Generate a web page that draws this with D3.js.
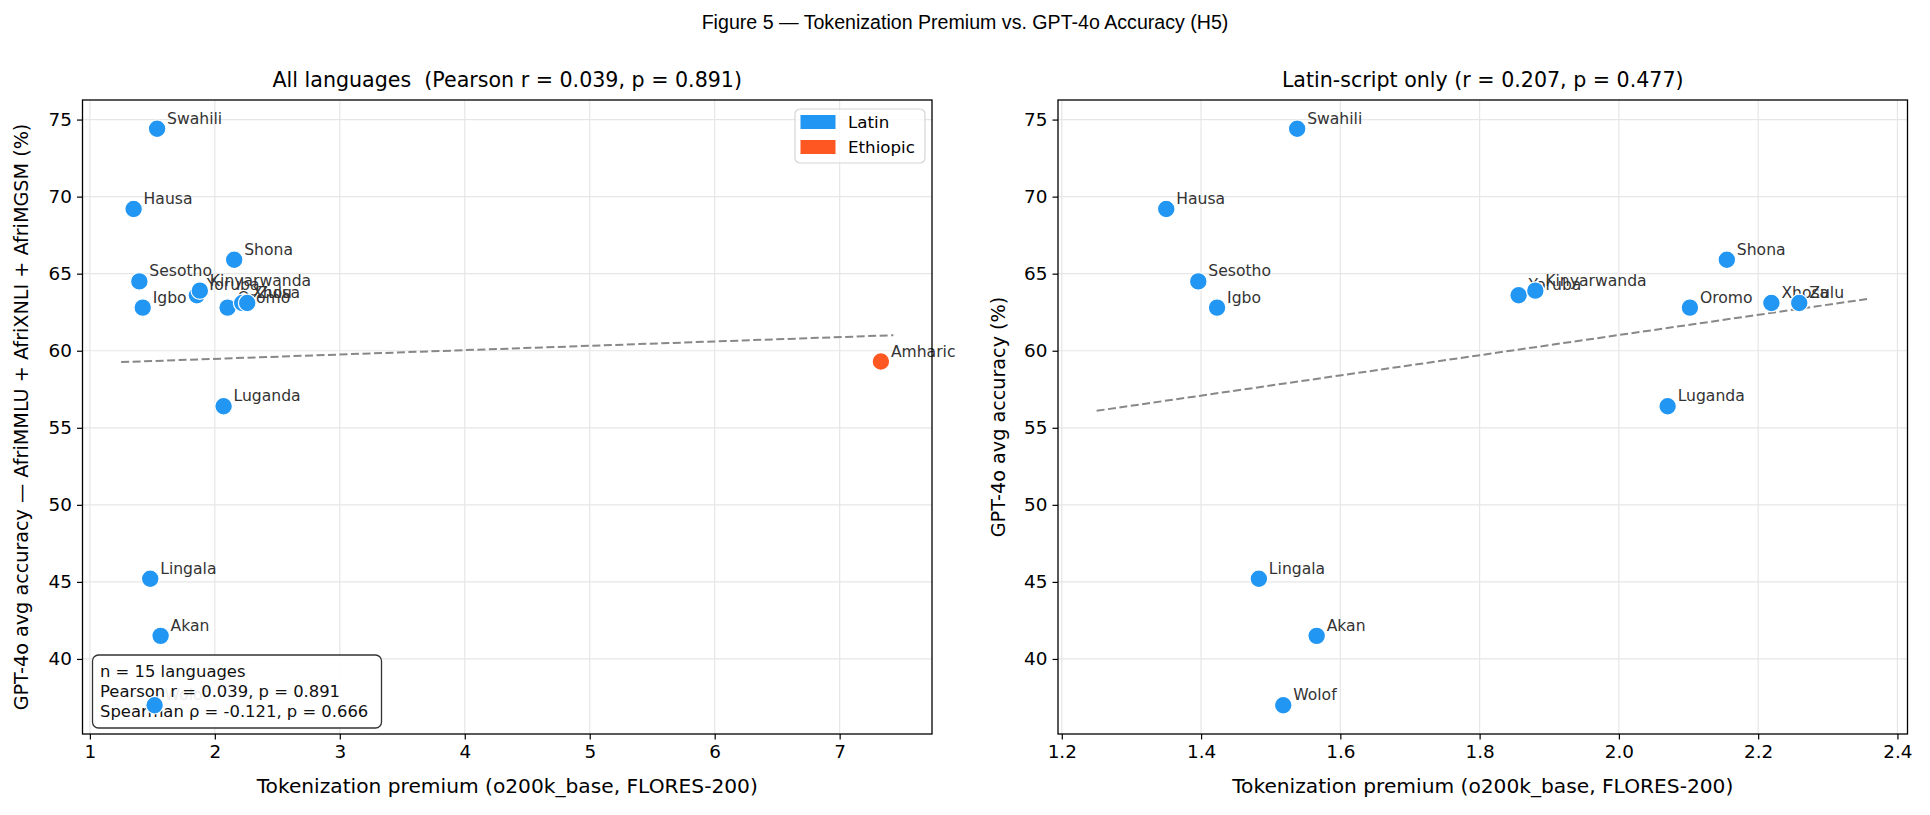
<!DOCTYPE html>
<html>
<head>
<meta charset="utf-8">
<script src="https://cdn.jsdelivr.net/npm/d3@7"></script>
<style>
    body { margin: 0; background: #fff; }
    svg text { font-family: 'DejaVu Sans', sans-serif; }
</style>
</head>
<body>
<div id="chart"></div>
<script>
// values
var languages = ['Swahili', 'Hausa', 'Sesotho', 'Igbo', 'Yoruba', 'Kinyarwanda', 'Shona', 'Oromo',
    'Xhosa', 'Zulu', 'Luganda', 'Lingala', 'Akan', 'Wolof', 'Amharic'];
var premium = [1.538, 1.350, 1.396, 1.423, 1.856, 1.880, 2.155, 2.102,
    2.219, 2.259, 2.070, 1.483, 1.566, 1.518, 7.33];
var accuracy = [74.4, 69.2, 64.5, 62.8, 63.6, 63.9, 65.9, 62.8,
    63.1, 63.1, 56.4, 45.2, 41.5, 37.0, 59.3];
var scripts = ['Latin', 'Latin', 'Latin', 'Latin', 'Latin', 'Latin', 'Latin', 'Latin',
    'Latin', 'Latin', 'Latin', 'Latin', 'Latin', 'Latin', 'Ethiopic'];

var scriptNames = ['Latin', 'Ethiopic'];
var scriptColors = ['#2196F3', '#FF5722'];

var xTicksAll = [1, 2, 3, 4, 5, 6, 7];
var xTicksLatin = [1.2, 1.4, 1.6, 1.8, 2.0, 2.2, 2.4];
var yTicks = [40, 45, 50, 55, 60, 65, 70, 75];

var noteLines = ['n = 15 languages', 'Pearson r = 0.039, p = 0.891', 'Spearman \u03c1 = -0.121, p = 0.666'];

var color = d3.scaleOrdinal().domain(scriptNames).range(scriptColors);

var Panel = function(opts) {
    // load in arguments from config object
    this.svg = opts.svg;
    this.idx = opts.idx;
    this.left = opts.left;
    this.width = opts.width;
    this.top = 100;
    this.height = 634;
    this.opts = opts;

    this.draw();
}

Panel.prototype.draw = function() {
    this.plot = this.svg.append('g')
        .attr('transform', 'translate(' + this.left + ',' + this.top + ')');

    this.fitLine();
    this.createScales();
    this.addGrid();
    this.addTrend();
    this.addLabels();
    if (this.opts.note) this.addNote();
    this.addPoints();
    this.addAxes();
    if (this.opts.legend) this.addLegend();
}

Panel.prototype.fitLine = function() {
    // least squares on the panel's points, drawn a bit past the data
    var xs = this.idx.map(function(i) { return premium[i]; });
    var ys = this.idx.map(function(i) { return accuracy[i]; });
    var mx = d3.mean(xs), my = d3.mean(ys);
    var sxy = d3.sum(xs, function(x, k) { return (x - mx) * (ys[k] - my); });
    var sxx = d3.sum(xs, function(x) { return (x - mx) * (x - mx); });
    var b = sxy / sxx, a = my - b * mx;
    var x0 = d3.min(xs) - 0.1, x1 = d3.max(xs) + 0.1;
    this.trend = [[x0, a + b * x0], [x1, a + b * x1]];
    this.xs = xs;
}

Panel.prototype.createScales = function() {
    // matplotlib style 5% margins
    var pad = function(lo, hi) { var m = (hi - lo) * 0.05; return [lo - m, hi + m]; };
    var xlo = Math.min(d3.min(this.xs), this.trend[0][0]);
    var xhi = Math.max(d3.max(this.xs), this.trend[1][0]);
    this.x = d3.scaleLinear().domain(pad(xlo, xhi)).range([0, this.width]);
    this.y = d3.scaleLinear().domain(pad(d3.min(accuracy), d3.max(accuracy))).range([this.height, 0]);
}

Panel.prototype.addGrid = function() {
    var x = this.x, y = this.y, h = this.height, w = this.width;
    this.plot.append('g').selectAll('line').data(this.opts.xTicks).enter().append('line')
        .attr('x1', x).attr('x2', x).attr('y1', 0).attr('y2', h)
        .attr('stroke', '#e6e6e6').attr('stroke-width', 1.2);
    this.plot.append('g').selectAll('line').data(yTicks).enter().append('line')
        .attr('y1', y).attr('y2', y).attr('x1', 0).attr('x2', w)
        .attr('stroke', '#e6e6e6').attr('stroke-width', 1.2);
}

Panel.prototype.addTrend = function() {
    var x = this.x, y = this.y;
    this.plot.append('path')
        .datum(this.trend)
        .attr('d', d3.line().x(function(d) { return x(d[0]); }).y(function(d) { return y(d[1]); }))
        .attr('fill', 'none')
        .attr('stroke', '#888')
        .attr('stroke-width', 2)
        .attr('stroke-dasharray', '8,3.5');
}

Panel.prototype.addLabels = function() {
    var x = this.x, y = this.y;
    this.plot.append('g').selectAll('text').data(this.idx).enter().append('text')
        .attr('x', function(i) { return x(premium[i]) + 10; })
        .attr('y', function(i) { return y(accuracy[i]) - 5; })
        .attr('font-size', '15.6px')
        .attr('fill', '#333')
        .text(function(i) { return languages[i]; });
}

Panel.prototype.addNote = function() {
    var g = this.plot.append('g').attr('transform', 'translate(10,555)');
    g.append('rect')
        .attr('width', 289).attr('height', 73)
        .attr('rx', 6).attr('ry', 6)
        .attr('fill', '#fff').attr('fill-opacity', 0.9)
        .attr('stroke', '#333').attr('stroke-width', 1.3);
    g.selectAll('text').data(noteLines).enter().append('text')
        .attr('x', 7.5)
        .attr('y', function(d, k) { return 22 + k * 20; })
        .attr('font-size', '16.4px')
        .attr('fill', '#111')
        .text(function(d) { return d; });
}

Panel.prototype.addPoints = function() {
    var x = this.x, y = this.y;
    this.plot.append('g').selectAll('circle').data(this.idx).enter().append('circle')
        .attr('cx', function(i) { return x(premium[i]); })
        .attr('cy', function(i) { return y(accuracy[i]); })
        .attr('r', 8.8)
        .attr('fill', function(i) { return color(scripts[i]); })
        .attr('stroke', '#fff')
        .attr('stroke-width', 1.2);
}

Panel.prototype.addAxes = function() {
    var xAxis = d3.axisBottom(this.x).tickValues(this.opts.xTicks)
        .tickFormat(this.opts.fmt).tickSizeOuter(0).tickSize(5.5).tickPadding(5);
    var yAxis = d3.axisLeft(this.y).tickValues(yTicks)
        .tickFormat(d3.format('d')).tickSizeOuter(0).tickSize(5.5).tickPadding(5);

    var gx = this.plot.append('g').attr('transform', 'translate(0,' + this.height + ')').call(xAxis);
    var gy = this.plot.append('g').call(yAxis);
    [gx, gy].forEach(function(g) {
        g.select('.domain').remove();
        g.selectAll('text').attr('font-size', '18.4px').attr('fill', '#000')
            .attr('font-family', "'DejaVu Sans', sans-serif");
        g.selectAll('line').attr('stroke', '#000').attr('stroke-width', 1.2);
    });

    // frame
    this.plot.append('rect')
        .attr('width', this.width).attr('height', this.height)
        .attr('fill', 'none').attr('stroke', '#000').attr('stroke-width', 1.3);

    // titles
    this.plot.append('text')
        .attr('x', this.width / 2).attr('y', -13)
        .attr('text-anchor', 'middle').attr('font-size', '20.6px')
        .style('white-space', 'pre')
        .text(this.opts.title);
    this.plot.append('text')
        .attr('x', this.width / 2).attr('y', this.height + 59)
        .attr('text-anchor', 'middle').attr('font-size', '20.2px')
        .text('Tokenization premium (o200k_base, FLORES-200)');
    this.plot.append('text')
        .attr('transform', 'translate(' + this.opts.ylabelX + ',' + (this.height / 2) + ') rotate(-90)')
        .attr('text-anchor', 'middle').attr('font-size', '19.2px')
        .text(this.opts.ylabel);
}

Panel.prototype.addLegend = function() {
    var g = this.plot.append('g').attr('transform', 'translate(' + (this.width - 137) + ',9)');
    g.append('rect')
        .attr('width', 130).attr('height', 54)
        .attr('rx', 5).attr('ry', 5)
        .attr('fill', '#fff').attr('fill-opacity', 0.8)
        .attr('stroke', '#d5d5d5').attr('stroke-width', 1.2);
    var rows = g.selectAll('g').data(scriptNames).enter().append('g')
        .attr('transform', function(d, k) { return 'translate(5.5,' + (6 + k * 25) + ')'; });
    rows.append('rect')
        .attr('width', 35).attr('height', 14)
        .attr('fill', function(d) { return color(d); });
    rows.append('text')
        .attr('x', 47.5).attr('y', 13)
        .attr('font-size', '16.7px')
        .text(function(d) { return d; });
}

var svg = d3.select('#chart').append('svg')
    .attr('width', 1930).attr('height', 815);

svg.append('text')
    .attr('x', 965).attr('y', 29)
    .attr('text-anchor', 'middle')
    .attr('font-size', '19.6px')
    .style('font-family', "'Liberation Sans', Arial, sans-serif")
    .text('Figure 5 \u2014 Tokenization Premium vs. GPT-4o Accuracy (H5)');

var allIdx = d3.range(languages.length);
var latinIdx = allIdx.filter(function(i) { return scripts[i] === 'Latin'; });

new Panel({
    svg: svg, idx: allIdx, left: 82.5, width: 849.5,
    xTicks: xTicksAll, fmt: d3.format('d'),
    title: 'All languages  (Pearson r = 0.039, p = 0.891)',
    ylabel: 'GPT-4o avg accuracy \u2014 AfriMMLU + AfriXNLI + AfriMGSM (%)',
    ylabelX: -55, legend: true, note: true
});

new Panel({
    svg: svg, idx: latinIdx, left: 1058, width: 849.5,
    xTicks: xTicksLatin, fmt: d3.format('.1f'),
    title: 'Latin-script only (r = 0.207, p = 0.477)',
    ylabel: 'GPT-4o avg accuracy (%)',
    ylabelX: -53, legend: false, note: false
});
</script>
</body>
</html>
